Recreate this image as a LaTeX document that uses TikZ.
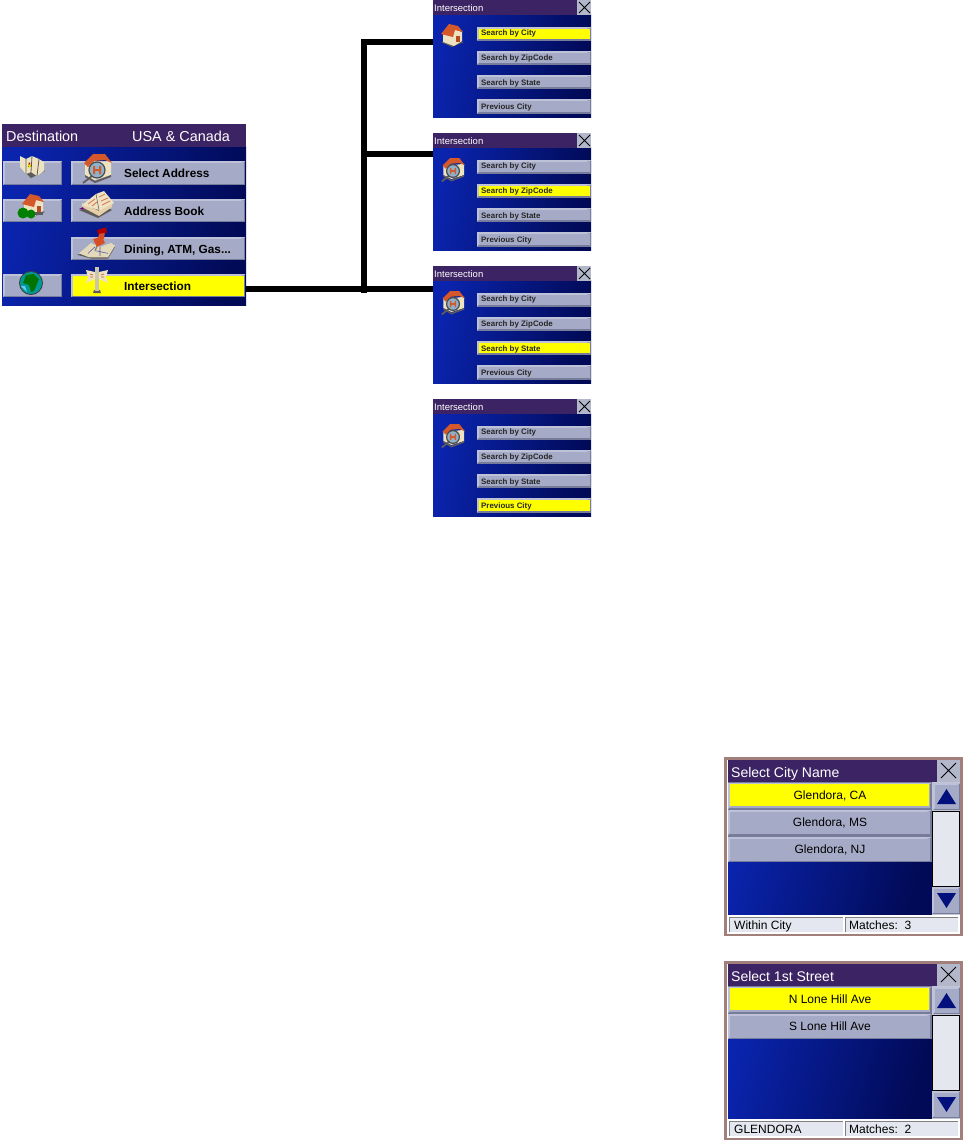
\documentclass[tikz,border=0pt]{standalone}
\usepackage{fontspec}
\setmainfont{Liberation Sans}
\definecolor{titlebar}{HTML}{3C2363}
\definecolor{btnbase}{HTML}{A5ABC6}
\definecolor{btnlight}{HTML}{BDC2D8}
\definecolor{btndark}{HTML}{767C9A}
\definecolor{bluehi}{HTML}{0A24AE}
\definecolor{bluelo}{HTML}{010A56}
\definecolor{framec}{HTML}{A27F7A}
\definecolor{closebg}{HTML}{B3B7CA}
\definecolor{statusbg}{HTML}{E5E7F0}
\definecolor{arrowc}{HTML}{02107E}
\definecolor{hl}{HTML}{FFFF00}
\definecolor{roof}{HTML}{D4582A}
\definecolor{wall}{HTML}{EDE3C2}
\definecolor{iconshade}{HTML}{5F5B58}
\definecolor{lensc}{HTML}{8FB2CC}
\tikzset{
  x=1pt,y=-1pt,
  panelgrad/.style={left color=bluehi,right color=bluelo,shading angle=80},
  btntxt/.style={anchor=base west,inner sep=0pt,font=\bfseries\fontsize{11.8}{12}\selectfont,text=black},
  smalltxt/.style={anchor=base west,inner sep=0pt,font=\bfseries\fontsize{7.9}{9}\selectfont,text=black!85},
  smalltitle/.style={anchor=base west,inner sep=0pt,font=\fontsize{9.5}{10}\selectfont,text=white},
  maintitle/.style={anchor=base west,inner sep=0pt,font=\fontsize{14.4}{15}\selectfont,text=white},
  bigtitle/.style={anchor=base west,inner sep=0pt,font=\fontsize{14}{15}\selectfont,text=white},
  biglabel/.style={anchor=base,inner sep=0pt,font=\fontsize{12}{13}\selectfont,text=black},
  statustxt/.style={anchor=base west,inner sep=0pt,font=\fontsize{12}{13}\selectfont,text=black},
  link/.style={line width=6pt,draw=black}
}
\newcommand{\bev}[5]{%
  \fill[btndark] (#1,#2) rectangle (#3,#4);
  \fill[btnlight] (#1,#2) -- (#3,#2) -- (#3-1.5,#2+1.5) -- (#1+1.5,#4-1.5) -- (#1,#4) -- cycle;
  \fill[#5] (#1+1.5,#2+1.5) rectangle (#3-1.5,#4-1.5);}
\newcommand{\xmark}[4]{\draw[black,line width=1pt] (#1,#2) -- (#3,#4) (#1,#4) -- (#3,#2);}
\newcommand{\houseicon}[2]{%
  \begin{scope}[shift={(#1,#2)}]
    \fill[iconshade] (-11,7) -- (0,12) -- (12,7) -- (0,4) -- cycle;
    \fill[wall] (-9,-2) -- (-9,7) -- (2,11) -- (10,6) -- (10,-3) -- (2,-6) -- cycle;
    \fill[roof] (-11,-1) -- (-3,-11) -- (6,-9) -- (11,-3) -- (3,-5) -- (1,2) -- cycle;
    \fill[roof!85!black] (4,1) rectangle (8,7);
  \end{scope}}
% origin of the icon is the centre of the lens
\newcommand{\lensicon}[3]{%
  \begin{scope}[shift={(#1,#2)},scale=#3]
    \fill[wall] (-12,-6) -- (-12,5) -- (-2,10) -- (14,5) -- (14,-9) -- cycle;
    \fill[iconshade] (-12,5) -- (-2,11) -- (14,5) -- (14,7) -- (-2,13) -- (-12,7) -- cycle;
    \fill[roof] (-13,-7) -- (-4,-16) -- (8,-16) -- (15,-7) -- (8,-10) -- (-3,-9) -- (-9,-3) -- cycle;
    \draw[iconshade,line width=1.8pt] (-5,6) -- (-14,13);
    \fill[lensc] (0,0) circle (8);
    \draw[black!70,line width=1.2pt] (0,0) circle (8);
    \fill[roof] (-4,-4) rectangle (-2,4) (2,-4) rectangle (4,4) (-3,-1) rectangle (3,1);
  \end{scope}}
\newcommand{\mapicon}[2]{%
  \begin{scope}[shift={(#1,#2)}]
    \fill[iconshade] (-9,4) -- (0,13) -- (14,6) -- (3,-2) -- cycle;
    \fill[wall] (-11,-9) -- (-5,-6) -- (1,-9) -- (8,-6) -- (13,-3) -- (13,6) -- (6,11) -- (0,7) -- (-5,9) -- (-11,2) -- cycle;
    \draw[iconshade,line width=.8pt] (-5,-6) -- (-5,9) (1,-9) -- (0,7) (8,-6) -- (6,11);
    \fill[red!80!black] (-2,-3) -- (1,1) -- (-3,2) -- cycle;
    \fill[hl!80!green] (-3,0) -- (0,-1) -- (-1,4) -- cycle;
  \end{scope}}
\newcommand{\bookicon}[2]{%
  \begin{scope}[shift={(#1,#2)}]
    \fill[iconshade] (-21,4) -- (-2,12) -- (12,4) -- (0,-2) -- cycle;
    \fill[wall!80!brown] (-18,1) -- (-1,10) -- (12,1) -- (12,-3) -- (-1,5) -- (-18,-3) -- cycle;
    \fill[wall] (-18,-1) -- (-4,-12) -- (-1,4) -- cycle;
    \fill[wall] (-4,-12) -- (4,-15) -- (14,-3) -- (-1,5) -- cycle;
    \draw[iconshade,line width=.5pt] (-4,-12) -- (-1,4);
    \draw[roof!80,line width=.9pt] (-12,-2) -- (-5,-7) (-8,0) -- (-3,-4) (-1,-9) -- (5,-12) (1,-5) -- (8,-8) (2,-1) -- (10,-5);
    \fill[violet] (-21,3) -- (-17,1) -- (-16,3) -- cycle;
  \end{scope}}
\newcommand{\pinicon}[2]{%
  \begin{scope}[shift={(#1,#2)},yscale=1.3]
    \fill[iconshade] (-23,9) -- (-9,12) -- (8,12) -- (15,3) -- (8,4) -- cycle;
    \fill[wall!90!gray] (-21,8) -- (-9,0) -- (0,3) -- (11,0) -- (15,2) -- (8,11) -- (-11,11) -- cycle;
    \draw[gray!70!blue,line width=.6pt] (-12,8) -- (-5,3) (0,3) -- (0,10) (-4,6) -- (8,8);
    \draw[gray,line width=1.2pt] (-1,-1) -- (-5,6);
    \fill[roof!90!red] (-7,-3) -- (2,-5) -- (5,0) -- (-3,3) -- cycle;
    \fill[roof!90!red] (-2,-4) -- (0,-9) -- (5,-9) -- (4,-3) -- cycle;
    \fill[red!70!black] (-3,-10) -- (6,-12) -- (7,-8) -- (-2,-7) -- cycle;
  \end{scope}}
\newcommand{\signicon}[2]{%
  \begin{scope}[shift={(#1,#2)}]
    \fill[iconshade] (-3,8) -- (3,8) -- (4,11) -- (-4,11) -- cycle;
    \fill[wall!70!gray] (-2,-15) rectangle (2,9);
    \fill[wall] (-11,-12) -- (-2,-10) -- (-2,-3) -- (-11,1) -- (-9,-5) -- cycle;
    \fill[wall] (11,-12) -- (2,-10) -- (2,-3) -- (11,1) -- (9,-5) -- cycle;
    \draw[roof,line width=.7pt] (-7,-8) -- (-4,-7) (-7,-5) -- (-4,-5) (7,-8) -- (4,-7) (7,-5) -- (4,-5);
  \end{scope}}
\newcommand{\globeicon}[2]{%
  \begin{scope}[shift={(#1,#2)}]
    \fill[black!75] (0,0) circle (12);
    \fill[teal!80!cyan] (0,0) circle (11);
    \fill[green!45!black] (-5,-8) -- (3,-9) -- (8,-4) -- (6,1) -- (3,8) -- (0,9) -- (-2,2) -- (-8,0) -- cycle;
    \fill[cyan!60!white] (-10,3) -- (-6,3) -- (-4,9) -- cycle;
  \end{scope}}
\newcommand{\smallpanel}[7]{%
  \begin{scope}[shift={(0,#2)}]
    \shade[panelgrad] (433,14) rectangle (591,117.5);
    \fill[titlebar] (433,0) rectangle (577,15);
    \fill[closebg] (577,0) rectangle (591,15);
    \xmark{579}{2}{590}{13}
    \node[smalltitle] (#1t) at (434,11) {Intersection};
    #3
    \bev{477}{27}{591}{40.5}{#4}
    \bev{477}{51}{591}{64.5}{#5}
    \bev{477}{75}{591}{88.5}{#6}
    \bev{477}{99}{591}{113.5}{#7}
    \node[smalltxt] (#1a) at (481,35) {Search by City};
    \node[smalltxt] (#1b) at (481,60) {Search by ZipCode};
    \node[smalltxt] (#1c) at (481,85) {Search by State};
    \node[smalltxt] (#1d) at (481,109) {Previous City};
  \end{scope}}
\newcommand{\bigpanel}[6]{%
  \begin{scope}[shift={(0,#2)}]
    \fill[framec] (724,757) rectangle (963,936);
    \fill[white] (727,760) rectangle (960,934);
    \shade[left color=bluehi,right color=bluelo,shading angle=75] (728,782) rectangle (932,915);
    \fill[titlebar] (728,760) rectangle (937,782);
    \fill[closebg] (937,760) rectangle (960,782);
    \xmark{941}{763}{956}{778}
    \node[bigtitle] (#1t) at (731,777) {#3};
    #4
    \fill[closebg!80!white] (932,782) rectangle (960,915);
    \bev{933}{783}{960}{810}{btnbase}
    \fill[arrowc] (937,804) -- (946.5,789) -- (956,804) -- cycle;
    \bev{932}{887}{960}{914}{btnbase}
    \fill[arrowc] (937,893) -- (956,893) -- (946.5,908) -- cycle;
    \draw[black,line width=1pt,fill=statusbg] (932.5,811) rectangle (959.5,886);
    \fill[white] (727,915) rectangle (960,934);
    \fill[statusbg] (729,917) rectangle (843,932);
    \fill[statusbg] (845,917) rectangle (958,932);
    \draw[gray,line width=.7pt] (729,932) -- (729,917) -- (843,917) (845,932) -- (845,917) -- (958,917);
    \node[statustxt] (#1s) at (734,929) {#5};
    \node[statustxt] (#1m) at (849,929) {#6};
  \end{scope}}
\begin{document}
\begin{tikzpicture}
\useasboundingbox (0,0) rectangle (963,1141);
\fill[white] (0,0) rectangle (963,1141);
\shade[panelgrad] (2,146) rectangle (246,305);
\fill[titlebar] (2,124) rectangle (246,147);
\node[maintitle] (mdest) at (6,141) {Destination};
\node[maintitle] (mcan) at (132,141) {USA \& Canada};
\bev{3}{161}{62}{185}{btnbase}
\bev{3}{199}{62}{222}{btnbase}
\bev{3}{274}{62}{297}{btnbase}
\bev{71}{161}{245}{185}{btnbase}
\bev{71}{199}{245}{222}{btnbase}
\bev{71}{237}{245}{260}{btnbase}
\bev{71}{274}{245}{297}{hl}
\mapicon{31}{165}
\houseicon{33}{205}
\fill[iconshade] (35,212) rectangle (43,215);
\fill[green!50!black] (23,213) circle (5.5) (31,214) circle (4.5);
\globeicon{31}{283}
\lensicon{97}{170}{1}
\bookicon{100}{206}
\pinicon{100}{243}
\signicon{97}{282}
\node[btntxt] (m1) at (124,177) {Select Address};
\node[btntxt] (m2) at (124,215) {Address Book};
\node[btntxt] (m3) at (124,253) {Dining, ATM, Gas...};
\node[btntxt] (m4) at (124,290) {Intersection};
\smallpanel{a}{0}{\houseicon{452}{35}}{hl}{btnbase}{btnbase}{btnbase}
\smallpanel{b}{133}{\lensicon{453}{38}{.8}}{btnbase}{hl}{btnbase}{btnbase}
\smallpanel{c}{266}{\lensicon{453}{38}{.8}}{btnbase}{btnbase}{hl}{btnbase}
\smallpanel{d}{399}{\lensicon{453}{38}{.8}}{btnbase}{btnbase}{btnbase}{hl}
\coordinate (src) at (246,289);
\coordinate (tgta) at (433,42);
\coordinate (tgtb) at (433,154);
\coordinate (tgtc) at (433,289);
\coordinate (bustop) at (364,39);
\coordinate (busend) at (364,293);
\draw[link] (src) -- (tgtc);
\draw[link] (busend) -- (bustop);
\draw[link] (bustop |- tgta) ++(-3,0) -- (tgta);
\draw[link] (bustop |- tgtb) -- (tgtb);
\bigpanel{e}{0}{Select City Name}{%
  \fill[btndark] (728,782) rectangle (932,862);
  \bev{728}{783}{931}{809}{btnbase}\fill[hl] (730,784) rectangle (929,806);
  \bev{728}{810}{931}{835}{btnbase}
  \bev{728}{837}{931}{862}{btnbase}
  \node[biglabel] (e1) at (830,799) {Glendora, CA};
  \node[biglabel] (e2) at (830,826) {Glendora, MS};
  \node[biglabel] (e3) at (830,853) {Glendora, NJ};
}{Within City}{Matches:\ \ 3}
\bigpanel{f}{204}{Select 1st Street}{%
  \fill[btndark] (728,782) rectangle (932,835);
  \bev{728}{783}{931}{809}{btnbase}\fill[hl] (730,784) rectangle (929,806);
  \bev{728}{810}{931}{835}{btnbase}
  \node[biglabel] (f1) at (830,799) {N Lone Hill Ave};
  \node[biglabel] (f2) at (830,826) {S Lone Hill Ave};
}{GLENDORA}{Matches:\ \ 2}
\end{tikzpicture}
\end{document}
